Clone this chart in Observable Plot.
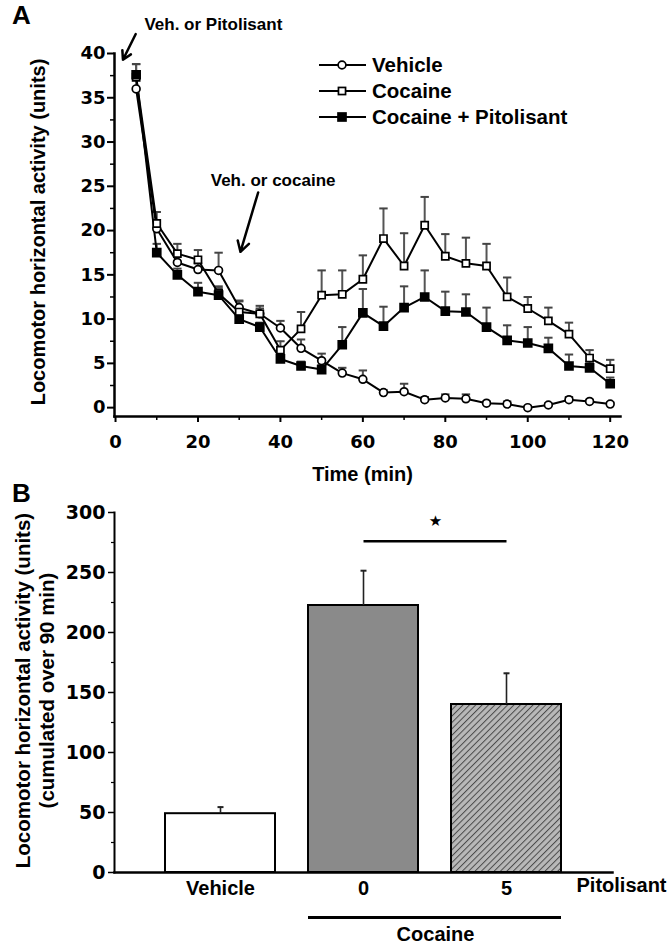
<!DOCTYPE html>
<html>
<head>
<meta charset="utf-8">
<script src="https://cdn.jsdelivr.net/npm/d3@7"></script>
<script src="https://cdn.jsdelivr.net/npm/@observablehq/plot@0.6"></script>
<style>
  body { margin: 0; background: #fff; }
  #wrap { position: relative; width: 670px; height: 948px; overflow: hidden;
          font-family: "Liberation Sans", Arial, sans-serif; font-weight: bold; color: #000; }
  #wrap > svg { position: absolute; left: 0; }
  .letter { position: absolute; font-size: 26px; font-weight: bold; }
  .legend { position: absolute; left: 318px; top: 52px; }
  .legend .row { display: flex; align-items: center; height: 26px; font-size: 20.5px; }
  .legend svg { margin-right: 4px; }
</style>
</head>
<body>
<div id="wrap"></div>
<script>
// ---------- Panel A data ----------
const times = [5,10,15,20,25,30,35,40,45,50,55,60,65,70,75,80,85,90,95,100,105,110,115,120];
const vehicle     = [36.0,20.2,16.4,15.6,15.5,11.3,10.6,9.0,6.7,5.3,3.9,3.2,1.7,1.8,0.9,1.1,1.0,0.5,0.4,0.0,0.3,0.9,0.7,0.4];
const vehicleErr  = [1.2,0.9,0.8,0.7,2.0,0.8,0.6,0.8,1.0,0.8,0.6,1.0,0.3,0.9,0.3,0.4,0.5,0.2,0.3,0.2,0.2,0.3,0.2,0.2];
const cocaine     = [37.3,20.8,17.4,16.7,12.9,10.8,10.6,6.5,8.9,12.7,12.8,14.5,19.1,16.0,20.6,17.1,16.3,16.0,12.5,11.2,9.8,8.3,5.6,4.4];
const cocaineErr  = [1.5,1.3,1.1,1.1,0.8,1.2,0.9,1.0,1.9,2.8,2.7,2.7,3.4,3.7,3.2,2.5,2.9,2.5,2.2,1.3,1.5,1.3,0.9,1.0];
const cocPit      = [37.6,17.5,15.0,13.1,12.7,10.0,9.1,5.5,4.7,4.3,7.1,10.7,9.2,11.3,12.5,10.9,10.8,9.1,7.6,7.3,6.7,4.7,4.5,2.7];
const cocPitErr   = [1.2,1.0,0.7,1.0,0.8,0.5,0.5,0.5,0.5,0.5,2.0,2.7,2.2,2.4,3.0,2.2,2.0,2.2,1.7,1.8,1.2,1.3,0.7,0.7];
const seriesNames = ["Vehicle", "Cocaine", "Cocaine + Pitolisant"];
const yTicksA = [0,5,10,15,20,25,30,35,40];
const yMinorA = [2.5,7.5,12.5,17.5,22.5,27.5,32.5,37.5];
const xTicksA = [0,20,40,60,80,100,120];
const xMinorA = [10,30,50,70,90,110];
const annotTexts = ["Veh. or Pitolisant", "Veh. or cocaine"];
const annotTextTime = [7.0, 23.1];
const annotTextValue = [43.3, 25.6];
const arrowFromTime = [4.9, 34.6];
const arrowFromValue = [42.2, 24.3];
const arrowToTime = [1.8, 30.3];
const arrowToValue = [39.3, 17.6];

// ---------- Panel B data ----------
const groups = ["Vehicle", "0", "5"];
const totals = [49, 222.5, 140];
const totalsErr = [5.5, 29, 26];
const yTicksB = [0,50,100,150,200,250,300];
const yMinorB = [25,75,125,175,225,275];
const sigPair = ["0", "5"];
const sigLevel = 276;
const starLevel = 293;

// ---------- build tables ----------
const seriesValues = [vehicle, cocaine, cocPit];
const seriesErrs = [vehicleErr, cocaineErr, cocPitErr];
const rowsA = [];
seriesNames.forEach((s, k) => times.forEach((t, i) =>
  rowsA.push({series: s, time: t, value: seriesValues[k][i], err: seriesErrs[k][i]})));
const annots = annotTexts.map((txt, i) => ({text: txt, time: annotTextTime[i], value: annotTextValue[i]}));
const arrows = annotTexts.map((txt, i) => ({t1: arrowFromTime[i], v1: arrowFromValue[i], t2: arrowToTime[i], v2: arrowToValue[i]}));
const rowsB = groups.map((g, i) => ({group: g, total: totals[i], err: totalsErr[i]}));

const capSymbol = { draw(ctx, size) { const r = Math.sqrt(size / Math.PI); ctx.moveTo(-r, 0); ctx.lineTo(r, 0); } };
const FONT = '"Liberation Sans", Arial, sans-serif';
const NUMFONT = '"DejaVu Sans", "Liberation Sans", sans-serif';
const styleBase = {fontFamily: FONT, fontWeight: "bold", fontSize: "20px", color: "#000", background: "transparent", overflow: "visible"};

const seriesStyle = {
  "Vehicle": {symbol: "circle", r: 3.9, fill: "#fff"},
  "Cocaine": {symbol: "square", r: 4.0, fill: "#fff"},
  "Cocaine + Pitolisant": {symbol: "square", r: 4.5, fill: "#000"}
};

// ---------- Panel A ----------
const plotA = Plot.plot({
  width: 670, height: 490,
  marginLeft: 114, marginRight: 50, marginTop: 53, marginBottom: 74,
  style: styleBase,
  x: {domain: [-0.25, 122.5]},
  y: {domain: [-1, 40]},
  marks: [
    Plot.axisY({ticks: yTicksA, tickSize: 7, tickPadding: 2, label: null, fontSize: 18, fontWeight: "bold", fontFamily: NUMFONT, strokeWidth: 2}),
    Plot.axisY({ticks: yMinorA, tickSize: 4, tickFormat: () => "", label: null, strokeWidth: 1.5}),
    Plot.axisX({ticks: xTicksA, tickSize: 6, tickPadding: 13, label: null, fontSize: 18, fontWeight: "bold", fontFamily: NUMFONT, strokeWidth: 2}),
    Plot.axisX({ticks: xMinorA, tickSize: 4, tickFormat: () => "", label: null, strokeWidth: 1.5}),
    Plot.frame({anchor: "left", strokeWidth: 2.5}),
    Plot.frame({anchor: "bottom", strokeWidth: 2.5}),
    Plot.text(["Locomotor horizontal activity (units)"], {frameAnchor: "left", textAnchor: "middle", rotate: -90, dx: -76, dy: -3, fontSize: 20, fontWeight: "bold"}),
    Plot.text(["Time (min)"], {frameAnchor: "bottom", textAnchor: "middle", dx: -5, dy: 64, fontSize: 20, fontWeight: "bold"}),
    // error bars (upper)
    Plot.ruleX(rowsA, {x: "time", y1: "value", y2: d => d.value + d.err, stroke: "#555", strokeWidth: 2}),
    Plot.dot(rowsA, {x: "time", y: d => d.value + d.err, symbol: capSymbol, r: 4.2, stroke: "#444", strokeWidth: 2, fill: "none"}),
    // lines
    Plot.line(rowsA, {x: "time", y: "value", z: "series", stroke: "#000", strokeWidth: 2}),
    // markers
    ...seriesNames.map(s => Plot.dot(rowsA, {
      filter: d => d.series === s, x: "time", y: "value",
      symbol: seriesStyle[s].symbol, r: seriesStyle[s].r,
      fill: seriesStyle[s].fill, stroke: "#000", strokeWidth: 1.7
    })),
    // annotations
    Plot.arrow(arrows, {x1: "t1", y1: "v1", x2: "t2", y2: "v2", stroke: "#000", strokeWidth: 2.5, headLength: 7}),
    Plot.text(annots, {x: "time", y: "value", text: "text", textAnchor: "start", fontSize: 17, fontWeight: "bold"})
  ]
});
plotA.style.top = "0px";

// ---------- Panel B ----------
const fillFor = {"Vehicle": "#fff", "0": "#8a8a8a", "5": "url(#hatchB)"};
const plotB = Plot.plot({
  width: 670, height: 468,
  marginLeft: 114, marginRight: 58, marginTop: 32, marginBottom: 76,
  style: styleBase,
  x: {domain: groups, paddingInner: 0.233, paddingOuter: 0.35},
  y: {domain: [0, 300]},
  marks: [
    Plot.axisY({ticks: yTicksB, tickSize: 6, tickPadding: 3, label: null, fontSize: 19, fontWeight: "bold", fontFamily: NUMFONT, strokeWidth: 1.5}),
    Plot.axisY({ticks: yMinorB, tickSize: 3, tickFormat: () => "", label: null, strokeWidth: 1.2}),
    Plot.axisX({tickSize: 0, tickPadding: 8, label: null, fontSize: 20, fontWeight: "bold"}),
    Plot.text(["Pitolisant"], {frameAnchor: "bottom-right", dx: -36, dy: 19, textAnchor: "start", fontSize: 20, fontWeight: "bold"}),
    Plot.text(["Locomotor horizontal activity (units)\n(cumulated over 90 min)"], {frameAnchor: "left", textAnchor: "middle", rotate: -90, dx: -80, dy: -2, lineHeight: 1.15, fontSize: 20.5, fontWeight: "bold"}),
    ...groups.map(g => Plot.barY(rowsB, {filter: d => d.group === g, x: "group", y: "total", fill: fillFor[g], stroke: "#000", strokeWidth: 2})),
    Plot.ruleX(rowsB, {x: "group", y1: "total", y2: d => d.total + d.err, stroke: "#222", strokeWidth: 1.6}),
    Plot.dot(rowsB, {x: "group", y: d => d.total + d.err, symbol: capSymbol, r: 3, stroke: "#222", strokeWidth: 2, fill: "none"}),
    Plot.frame({anchor: "left", strokeWidth: 2}),
    Plot.frame({anchor: "bottom", strokeWidth: 2.5}),
    // significance
    Plot.link([{a: sigPair[0], b: sigPair[1], y: sigLevel}], {x1: "a", x2: "b", y1: "y", y2: "y", stroke: "#000", strokeWidth: 2.5}),
    Plot.text([{a: sigPair[0], y: starLevel}], {x: "a", y: "y", text: () => "★", dx: 72, fontSize: 15, fontFamily: "DejaVu Sans"}),
    // cocaine bracket
    Plot.ruleY([0], {x1: () => sigPair[0], x2: () => sigPair[1], dy: 45, stroke: "#000", strokeWidth: 3}),
    Plot.text(["Cocaine"], {x: () => sigPair[0], text: d => d, frameAnchor: "bottom", textAnchor: "middle", dx: 72, dy: 68, fontSize: 20, fontWeight: "bold"})
  ]
});
plotB.style.top = "480px";

// hatch pattern for the Pitolisant bar
const defs = d3.select(plotB).insert("defs", ":first-child");
const pat = defs.append("pattern").attr("id", "hatchB").attr("patternUnits", "userSpaceOnUse")
  .attr("width", 4.5).attr("height", 4.5).attr("patternTransform", "rotate(45)");
pat.append("rect").attr("width", 4.5).attr("height", 4.5).attr("fill", "#b8b8b8");
pat.append("line").attr("x1", 0).attr("y1", 0).attr("x2", 0).attr("y2", 4.5).attr("stroke", "#4a4a4a").attr("stroke-width", 2);

const wrap = document.getElementById("wrap");
wrap.appendChild(plotA);
wrap.appendChild(plotB);

// panel letters
[["A", 12, 0], ["B", 12, 478]].forEach(([t, l, tp]) => {
  const d = document.createElement("div");
  d.className = "letter"; d.textContent = t; d.style.left = l + "px"; d.style.top = tp + "px";
  wrap.appendChild(d);
});

// legend
const legend = document.createElement("div");
legend.className = "legend";
seriesNames.forEach(s => {
  const st = seriesStyle[s];
  const row = document.createElement("div");
  row.className = "row";
  const side = st.r * Math.sqrt(Math.PI);
  const sym = st.symbol === "circle"
    ? `<circle cx="24" cy="13" r="${st.r}" fill="${st.fill}" stroke="#000" stroke-width="1.7"/>`
    : `<rect x="${24 - side / 2}" y="${13 - side / 2}" width="${side}" height="${side}" fill="${st.fill}" stroke="#000" stroke-width="1.7"/>`;
  row.innerHTML = `<svg width="50" height="26"><line x1="1" y1="13" x2="48" y2="13" stroke="#000" stroke-width="2.2"/>${sym}</svg><span>${s}</span>`;
  legend.appendChild(row);
});
wrap.appendChild(legend);
</script>
</body>
</html>
